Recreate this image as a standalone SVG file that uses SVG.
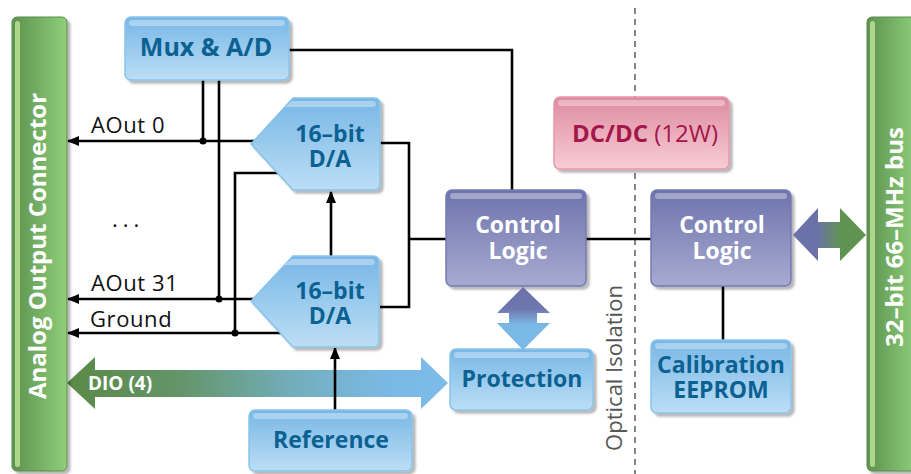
<svg xmlns="http://www.w3.org/2000/svg" width="911" height="474" viewBox="0 0 911 474">
  <defs>
    <linearGradient id="gBlue" x1="0" y1="0" x2="0" y2="1">
      <stop offset="0" stop-color="#78b7e6"/>
      <stop offset="1" stop-color="#bcdef5"/>
    </linearGradient>
    <linearGradient id="gPurple" x1="0" y1="0" x2="0" y2="1">
      <stop offset="0" stop-color="#6d74ac"/>
      <stop offset="1" stop-color="#a7aad0"/>
    </linearGradient>
    <linearGradient id="gPink" x1="0" y1="0" x2="0" y2="1">
      <stop offset="0" stop-color="#de8c9f"/>
      <stop offset="1" stop-color="#f8ccd6"/>
    </linearGradient>
    <linearGradient id="gBar" x1="0" y1="0" x2="1" y2="0">
      <stop offset="0" stop-color="#5d914e"/>
      <stop offset="1" stop-color="#8ecf7b"/>
    </linearGradient>
    <linearGradient id="gDio" gradientUnits="userSpaceOnUse" x1="67" y1="0" x2="448" y2="0">
      <stop offset="0" stop-color="#5a8946"/>
      <stop offset="0.3" stop-color="#64956a"/>
      <stop offset="0.6" stop-color="#73aebd"/>
      <stop offset="0.85" stop-color="#7ab9e6"/>
      <stop offset="1" stop-color="#7dbbe8"/>
    </linearGradient>
    <linearGradient id="gProt" gradientUnits="userSpaceOnUse" x1="0" y1="287" x2="0" y2="350">
      <stop offset="0" stop-color="#6c72aa"/>
      <stop offset="0.35" stop-color="#6f77b0"/>
      <stop offset="0.6" stop-color="#7ab8e6"/>
      <stop offset="1" stop-color="#7ab8e6"/>
    </linearGradient>
    <linearGradient id="gBus" gradientUnits="userSpaceOnUse" x1="816" y1="0" x2="842" y2="0">
      <stop offset="0" stop-color="#6b71a9"/>
      <stop offset="1" stop-color="#5f9450"/>
    </linearGradient>
    <filter id="shadow" x="-10%" y="-10%" width="125%" height="130%">
      <feDropShadow dx="3" dy="3" stdDeviation="1.2" flood-color="#000" flood-opacity="0.28"/>
    </filter>
    <marker id="arrow" viewBox="0 0 12 10" refX="11" refY="5" markerWidth="12" markerHeight="10" markerUnits="userSpaceOnUse" orient="auto">
      <path d="M0,0 L12,5 L0,10 Z" fill="#000"/>
    </marker>
  </defs>
  <style>
    .wire { fill: none; stroke: #000; stroke-width: 2.6; }
    .dot { fill: #000; }
    .blue { fill: url(#gBlue); stroke: #88c3ea; stroke-width: 1.5; filter: url(#shadow); }
    .purple { fill: url(#gPurple); stroke: #7479b1; stroke-width: 1.5; filter: url(#shadow); }
    .pink { fill: url(#gPink); stroke: #e697aa; stroke-width: 1.5; filter: url(#shadow); }
    .bar { fill: url(#gBar); stroke: #5a8c4c; stroke-width: 1; filter: url(#shadow); }
    .shine { fill: #ffffff; opacity: 0.35; }
    .barshine { fill: #c2e69a; opacity: 0.8; }
    .t { font-family: "Open Sans", "Noto Sans", "DejaVu Sans", sans-serif; font-weight: bold; font-size: 23px; text-anchor: middle; }
    .tb { fill: #0b6292; }
    .tw { fill: #ffffff; }
    .lbl { font-family: "Open Sans", "Noto Sans", "DejaVu Sans", sans-serif; font-size: 22px; letter-spacing: 0.6px; fill: #111; }
  </style>

  <!-- isolation boundary -->
  <line x1="635" y1="8" x2="635" y2="474" stroke="#666" stroke-width="1.6" stroke-dasharray="6 5"/>
  <text class="lbl" transform="translate(622,368) rotate(-90)" text-anchor="middle" style="fill:#555;font-size:22px;letter-spacing:0">Optical Isolation</text>

  <!-- wide bus arrows -->
  <g id="dio-arrow">
    <polygon points="67,383 95,357 95,370 421,370 421,357 448,383 421,409 421,397 95,397 95,409" fill="url(#gDio)"/>
    <text x="88" y="390" font-family="Open Sans, Noto Sans, sans-serif" font-weight="bold" font-size="19" fill="#fff">DIO (4)</text>
  </g>

  <!-- connectors -->
  <g id="connectors">
    <!-- analog outputs -->
    <line class="wire" x1="255" y1="141" x2="68" y2="141" marker-end="url(#arrow)"/>
    <line class="wire" x1="254" y1="299" x2="68" y2="299" marker-end="url(#arrow)"/>
    <line class="wire" x1="282" y1="333" x2="68" y2="333" marker-end="url(#arrow)"/>
    <!-- mux inputs -->
    <polyline class="wire" points="203,80 203,141"/>
    <polyline class="wire" points="219,80 219,299"/>
    <polyline class="wire" points="280,173 235,173 235,333"/>
    <circle class="dot" cx="203" cy="141" r="3.5"/>
    <circle class="dot" cx="219" cy="299" r="3.5"/>
    <circle class="dot" cx="235" cy="333" r="3.5"/>
    <!-- D/A data bus -->
    <polyline class="wire" points="380,143 409,143 409,307 380,307"/>
    <line class="wire" x1="409" y1="239" x2="447" y2="239"/>
    <line class="wire" x1="331" y1="256" x2="331" y2="192" marker-end="url(#arrow)"/>
    <line class="wire" x1="335" y1="410" x2="335" y2="348" marker-end="url(#arrow)"/>
    <!-- control -->
    <polyline class="wire" points="289,50 512,50 512,190"/>
    <line class="wire" x1="586" y1="239" x2="651" y2="239"/>
    <line class="wire" x1="723" y1="286" x2="723" y2="340"/>
  </g>

  <!-- signal labels -->
  <g id="labels">
    <text class="lbl" x="91" y="133">AOut 0</text>
    <text class="lbl" x="112" y="227" style="letter-spacing:5px">...</text>
    <text class="lbl" x="91" y="291">AOut 31</text>
    <text class="lbl" x="90" y="327">Ground</text>
  </g>

  <!-- connector bars -->
  <g id="analog-connector">
    <rect class="bar" x="12" y="17" width="55" height="454" rx="5"/>
    <rect class="barshine" x="15" y="21" width="5" height="446" rx="2.5"/>
    <text class="t tw" transform="translate(46,246) rotate(-90)" style="font-size:24px">Analog Output Connector</text>
  </g>
  <g id="pci-bus">
    <rect class="bar" x="867" y="17" width="50" height="454" rx="5"/>
    <rect class="barshine" x="870" y="21" width="5" height="446" rx="2.5"/>
    <text class="t tw" transform="translate(903,237) rotate(-90)" style="font-size:24px">32–bit 66–MHz bus</text>
  </g>

  <!-- nodes -->
  <g id="mux-ad">
    <rect class="blue" x="125" y="17" width="164" height="63" rx="6"/>
    <rect class="shine" x="129" y="20" width="156" height="6" rx="3"/>
    <text class="t tb" x="206" y="56" style="font-size:25px">Mux &amp; A/D</text>
  </g>
  <g id="da-0">
    <path class="blue" d="M251,144 L293,98 H374 Q380,98 380,104 V184 Q380,190 374,190 H293 Z"/>
    <path class="shine" d="M285,107 L292,101 H372 Q376,101 376,104 Q376,107 372,107 Z"/>
    <text class="t tb" x="330" y="142">16–bit</text>
    <text class="t tb" x="330" y="167">D/A</text>
  </g>
  <g id="da-31">
    <path class="blue" d="M251,301 L293,256 H373 Q379,256 379,262 V341 Q379,347 373,347 H293 Z"/>
    <path class="shine" d="M284,265 L292,259 H371 Q375,259 375,262 Q375,265 371,265 Z"/>
    <text class="t tb" x="330" y="299">16–bit</text>
    <text class="t tb" x="330" y="324">D/A</text>
  </g>
  <g id="reference">
    <rect class="blue" x="249" y="410" width="163" height="61" rx="6"/>
    <rect class="shine" x="253" y="413" width="155" height="6" rx="3"/>
    <text class="t tb" x="331" y="448">Reference</text>
  </g>
  <g id="control-logic-a">
    <rect class="purple" x="446" y="190" width="140" height="96" rx="6"/>
    <rect class="shine" x="450" y="193" width="132" height="6" rx="3"/>
    <text class="t tw" x="518" y="233">Control</text>
    <text class="t tw" x="518" y="259">Logic</text>
  </g>
  <g id="control-logic-b">
    <rect class="purple" x="651" y="190" width="140" height="96" rx="6"/>
    <rect class="shine" x="655" y="193" width="132" height="6" rx="3"/>
    <text class="t tw" x="722" y="233">Control</text>
    <text class="t tw" x="722" y="259">Logic</text>
  </g>
  <g id="dcdc">
    <rect class="pink" x="554" y="97" width="175" height="72" rx="6"/>
    <rect class="shine" x="558" y="100" width="167" height="6" rx="3"/>
    <text x="572" y="142" font-family="Open Sans, Noto Sans, sans-serif" font-size="24" fill="#a3174a"><tspan font-weight="bold">DC/DC</tspan> (12W)</text>
  </g>
  <g id="protection">
    <rect class="blue" x="450" y="349" width="143" height="61" rx="6"/>
    <rect class="shine" x="454" y="352" width="135" height="6" rx="3"/>
    <text class="t tb" x="522" y="387">Protection</text>
  </g>
  <g id="calibration-eeprom">
    <rect class="blue" x="651" y="340" width="140" height="73" rx="6"/>
    <rect class="shine" x="655" y="343" width="132" height="6" rx="3"/>
    <text class="t tb" x="721" y="373">Calibration</text>
    <text class="t tb" x="721" y="398">EEPROM</text>
  </g>

  <!-- bidirectional links -->
  <g id="protection-link">
    <polygon points="523,287 550,313 537,313 537,323 550,323 523,350 497,323 509,323 509,313 497,313" fill="url(#gProt)"/>
  </g>
  <g id="bus-link">
    <polygon points="793,235 818,208 818,222 840,222 840,208 866,235 840,261 840,248 818,248 818,261" fill="url(#gBus)"/>
  </g>
</svg>
